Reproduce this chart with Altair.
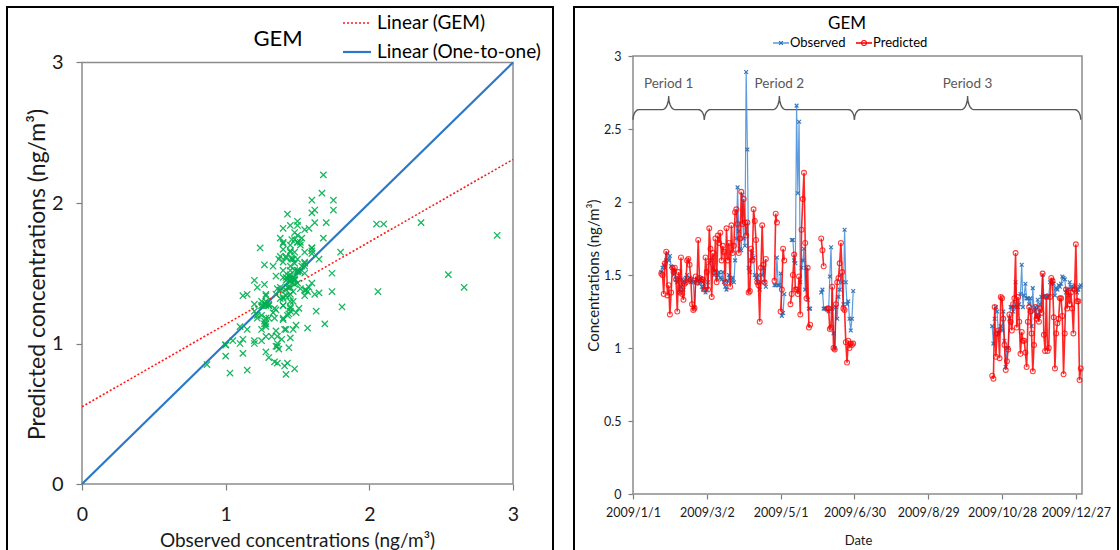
import altair as alt
import numpy as np
import pandas as pd

FONT = "Lato"

# ------------------------------------------------------------------ data
# daily GEM concentrations (ng/m3); None = no measurement
P12_START = "2009-01-24"
obs_p12 = [
    1.52, 1.55, 1.57, 1.55, 1.60, 1.65, 1.60, 1.63, 1.56, 1.55,
    1.50, 1.53, 1.47, 1.45, 1.48, 1.38, 1.42, 1.47, 1.40, 1.45,
    1.48, 1.50, 1.46, 1.48, 1.45, 1.47, 1.45, 1.28, 1.45, 1.47,
    1.46, 1.44, 1.48, 1.42, 1.40, 1.44, 1.38, 1.40, 1.45, 1.58,
    1.60, 1.62, 1.55, 1.50, 1.53, 1.48, 1.50, 1.52, 1.48, 1.47,
    1.52, 1.45, 1.42, 1.40, 1.46, 1.50, 1.48, 1.45, 1.48, 1.45,
    1.60, 1.75, 2.10, 1.80, 1.68, 1.67, 2.05, 1.75, 1.70, 2.89,
    2.36, 1.55, 1.52, 1.60, 1.65, 1.62, 1.50, 1.48, 1.45, 1.50,
    1.40, 1.45, 1.50, 1.55, 1.45, 1.42, None, None, None, None,
    None, None, 1.43, 1.43, 1.62, 1.43, 1.43, 1.51, 1.22, 1.24,
    1.37, None, None, None, None, None, 1.74, 1.74, 1.60, 1.58,
    2.66, 2.06, 2.55, 1.45, 1.55, 1.60, 1.68, 1.40, 1.55, 1.33,
    1.27, 1.27, None, None, None, None, None, None, None, None,
    1.38, 1.40, 1.27, 1.27, 1.27, 1.26, 1.25, 1.49, 1.69, 1.27,
    1.10, 1.00, 1.28, 1.20, 1.35, 1.40, 1.50, 1.45, 1.30, 1.81,
    1.45, 1.30, 1.32, 1.20, 1.12, 1.20, 1.39,
]
pred_p12 = [
    1.51, 1.50, 1.37, 1.58, 1.66, 1.36, 1.43, 1.23, 1.38, 1.55,
    1.52, 1.55, 1.47, 1.25, 1.52, 1.38, 1.62, 1.37, 1.33, 1.44,
    1.45, 1.60, 1.61, 1.57, 1.47, 1.30, 1.26, 1.27, 1.49, 1.45,
    1.74, 1.48, 1.46, 1.47, 1.47, 1.40, 1.62, 1.52, 1.40, 1.82,
    1.68, 1.35, 1.65, 1.52, 1.75, 1.45, 1.77, 1.72, 1.79, 1.60,
    1.70, 1.66, 1.45, 1.82, 1.60, 1.72, 1.42, 1.84, 1.65, 1.70,
    1.93, 1.95, 1.85, 1.65, 1.75, 2.07, 1.85, 2.02, 1.86, 1.77,
    1.86, 1.38, 1.39, 1.68, 1.60, 1.95, 1.87, 1.74, 1.45, 1.43,
    1.18, 1.55, 1.84, 1.57, 1.45, 1.61, None, None, None, None,
    None, None, 1.46, 1.92, 1.86, None, None, 1.25, 1.40, 1.68,
    1.60, None, None, None, None, 1.30, 1.37, 1.50, 1.64, 1.40,
    1.40, 1.37, 1.49, 1.23, 1.81, 2.02, 2.20, 1.72, 1.34, 1.55,
    1.14, 1.16, None, None, None, None, None, None, None, None,
    1.75, 1.67, 1.56, None, None, 1.27, 1.27, 1.13, 1.14, 1.42,
    1.00, 0.99, 1.30, 1.45, 1.48, 1.58, 1.72, 1.52, 1.27, 1.26,
    1.04, 0.90, 1.05, 1.00, 1.03, 1.02, 1.03,
]
P3_START = "2009-10-20"
obs_p3 = [
    1.15, 1.03, 1.20, 1.28, 1.25, 1.10, 1.12, 1.15, 1.12, 1.25,
    1.05, 0.87, 1.00, 1.00, 1.20, 1.28, 1.28, 1.25, 1.28, 1.45,
    1.28, 1.28, 1.30, 1.37, 1.57, 1.28, 1.36, 1.44, 1.34, 1.34,
    1.30, 1.34, 1.15, 1.41, 1.25, 1.28, 1.22, 1.33, 1.22, 1.30,
    1.35, 1.50, 1.35, 1.36, 1.35, 1.35, 1.36, 1.45, 1.44, 1.46,
    1.44, 1.36, 1.41, 1.40, 1.43, 1.42, 1.44, 1.49, 1.48, 1.47,
    1.38, 1.40, 1.36, 1.45, 1.42, 1.40, 1.42, 1.43, 1.40, 1.38,
    1.40, 1.42, 1.43,
]
pred_p3 = [
    0.81, 0.79, 1.28, 0.94, 1.10, 1.12, 0.93, 1.35, 1.34, 1.20,
    1.02, 0.85, 0.91, 0.99, 1.23, 1.18, 1.12, 1.30, 1.34, 1.65,
    1.14, 1.35, 1.18, 0.96, 1.11, 1.05, 1.05, 0.97, 0.87, 1.18,
    1.28, 1.25, 1.10, 0.84, 1.02, 1.28, 1.20, 1.22, 1.18, 1.27,
    1.24, 1.51, 1.09, 0.98, 1.35, 0.98, 1.00, 1.35, 1.48, 1.46,
    1.21, 0.86, 1.10, 1.17, 1.20, 1.34, 1.34, 1.22, 0.82, 1.10,
    1.40, 1.27, 1.39, 1.30, 1.38, 1.27, 1.10, 1.40, 1.71, 1.32,
    1.32, 0.78, 0.86,
]

# Excel trend lines
gem_fit_x = [0, 3]
gem_fit_y = [0.55, 2.31]
one_to_one_x = [0, 3]
one_to_one_y = [0, 3]
fit_names = ["Linear (GEM)", "Linear (One-to-one)"]

period_names = ["Period 1", "Period 2", "Period 3"]
period_from = ["2009-01-01", "2009-02-28", "2009-06-30"]
period_to = ["2009-02-28", "2009-06-30", "2009-12-31"]

date_ticks = ["2009-01-01", "2009-03-02", "2009-05-01", "2009-06-30",
              "2009-08-29", "2009-10-28", "2009-12-27"]
conc_ticks = [0, 0.5, 1, 1.5, 2, 2.5, 3]
scatter_ticks = [0, 1, 2, 3]
series_names = ["Observed", "Predicted"]

# ------------------------------------------------------------------ tables
BASE = pd.Timestamp("2009-01-01")


def series_rows(values, start, name):
    dates = pd.date_range(start, periods=len(values), freq="D")
    rows, seg, gap = [], 0, True
    for d, v in zip(dates, values):
        if v is None:
            gap = True
            continue
        if gap:
            seg += 1
            gap = False
        rows.append({"date": d, "value": v, "seg": f"{name}-{start}-{seg}"})
    return rows


obs_df = pd.DataFrame(series_rows(obs_p12, P12_START, "obs") + series_rows(obs_p3, P3_START, "obs"))
pred_df = pd.DataFrame(series_rows(pred_p12, P12_START, "pred") + series_rows(pred_p3, P3_START, "pred"))

pairs = [(o, p) for o, p in zip(obs_p12 + obs_p3, pred_p12 + pred_p3)
         if o is not None and p is not None]
scatter_df = pd.DataFrame(pairs, columns=["x", "y"])

gem_df = pd.DataFrame({"x": gem_fit_x, "y": gem_fit_y})
one_df = pd.DataFrame({"x": one_to_one_x, "y": one_to_one_y})
box_df = pd.DataFrame({"x": [0], "x2": [3], "y": [0], "y2": [3]})
one_row = pd.DataFrame({"k": [0]})

# curly braces above the periods
B_TIP, B_LINE, B_PEAK, B_R = 2.563, 2.633, 2.726, 5.0
brace_rows, label_rows = [], []
for name, a, b in zip(period_names, period_from, period_to):
    s = (pd.Timestamp(a) - BASE).days
    e = (pd.Timestamp(b) - BASE).days
    m = (s + e) / 2
    t = np.linspace(0, np.pi / 2, 10)
    pts = []
    pts += [(s + B_R * (1 - np.cos(u)), B_TIP + (B_LINE - B_TIP) * np.sin(u)) for u in t]
    pts += [(m - B_R + B_R * np.sin(u), B_LINE + (B_PEAK - B_LINE) * (1 - np.cos(u))) for u in t]
    pts += [(m + B_R - B_R * np.sin(u), B_LINE + (B_PEAK - B_LINE) * (1 - np.cos(u))) for u in t[::-1]]
    pts += [(e - B_R * (1 - np.cos(u)), B_TIP + (B_LINE - B_TIP) * np.sin(u)) for u in t[::-1]]
    for i, (dx, vy) in enumerate(pts):
        brace_rows.append({"period": name, "i": i,
                           "date": BASE + pd.to_timedelta(float(dx), unit="D"), "value": float(vy)})
    label_rows.append({"period": name, "date": BASE + pd.to_timedelta(m, unit="D")})
brace_df = pd.DataFrame(brace_rows)
plabel_df = pd.DataFrame(label_rows)
rbox_df = pd.DataFrame({"date": [BASE], "date2": [pd.Timestamp("2010-01-01")],
                        "value": [0], "value2": [3]})

# ------------------------------------------------------------------ styles
GREEN = "#00b050"
ONE_BLUE = "#2a78c6"
FIT_RED = "#ff1a1a"
OBS_LINE = "#4a90d9"
OBS_MARK = "#2b6cb3"
PRED_RED = "#ff0000"
GRAY = "#8c8c8c"
X_PATH = "M-1,-1L1,1M-1,1L1,-1"

# ------------------------------------------------------------------ left panel
LW, LH = 431, 438
L_TOP, L_BOT = 6.5, 428          # pixel rows of y=3 and y=0 inside the 438 px panel
L_PX = (L_BOT - L_TOP) / 3
Y_LO, Y_HI = -(LH - L_BOT) / L_PX, 3 + L_TOP / L_PX

lx = alt.X("x:Q", scale=alt.Scale(domain=[0, 3], nice=False, zero=False),
           axis=alt.Axis(title="Observed concentrations (ng/m³)", values=scatter_ticks, format="d",
                         offset=-(LH - L_BOT), tickSize=6, labelPadding=15, labelFontSize=19.5,
                         titleFontSize=19, titleX=215, titleY=56, titleBaseline="middle"))
ly = alt.Y("y:Q", scale=alt.Scale(domain=[Y_LO, Y_HI], nice=False, zero=False),
           axis=alt.Axis(title="Predicted concentrations (ng/m³)", values=scatter_ticks, format="d",
                         tickSize=6, labelPadding=13, labelFontSize=20,
                         titleFontSize=23, titleX=-44.5, titleY=218, titleBaseline="middle"))

l_frame = alt.Chart(one_row).mark_rect(fill="transparent", stroke="black", strokeWidth=2).encode(
    x=alt.value(-75), x2=alt.value(471), y=alt.value(-49), y2=alt.value(500))
l_box = alt.Chart(box_df).mark_rect(fill="transparent", stroke=GRAY, strokeWidth=1.5).encode(
    x=lx, x2="x2:Q", y=ly, y2="y2:Q")
l_one = alt.Chart(one_df).mark_line(color=ONE_BLUE, strokeWidth=2.2).encode(x=lx, y=ly)
l_fit = alt.Chart(gem_df).mark_line(color=FIT_RED, strokeWidth=1.6, strokeDash=[2, 2]).encode(x=lx, y=ly)
l_pts = alt.Chart(scatter_df).mark_point(shape=X_PATH, size=40, filled=False, color=GREEN,
                                         strokeWidth=1.3, opacity=0.9).encode(x=lx, y=ly)
l_leg1 = alt.Chart(one_row).mark_rule(color=FIT_RED, strokeWidth=1.6, strokeDash=[2, 2]).encode(
    x=alt.value(261), x2=alt.value(289), y=alt.value(-33))
l_leg2 = alt.Chart(one_row).mark_rule(color=ONE_BLUE, strokeWidth=2.2).encode(
    x=alt.value(261), x2=alt.value(289), y=alt.value(-4))
l_leg1t = alt.Chart(one_row).mark_text(text=fit_names[0], font=FONT, fontSize=19, align="left",
                                       baseline="middle", color="black").encode(
    x=alt.value(295), y=alt.value(-33))
l_leg2t = alt.Chart(one_row).mark_text(text=fit_names[1], font=FONT, fontSize=19, align="left",
                                       baseline="middle", color="black").encode(
    x=alt.value(295), y=alt.value(-4))
l_title = alt.Chart(one_row).mark_text(text="GEM", font=FONT, fontSize=22, align="center",
                                       baseline="middle", color="black").encode(
    x=alt.value(196), y=alt.value(-17))

left = alt.layer(l_frame, l_box, l_one, l_fit, l_pts, l_leg1, l_leg2, l_leg1t, l_leg2t,
                 l_title).properties(width=LW, height=LH)

# ------------------------------------------------------------------ right panel
RW, RH = 449, 438


def dt(s):
    t = pd.Timestamp(s)
    return alt.DateTime(year=t.year, month=t.month, date=t.day)


rx = alt.X("date:T",
           scale=alt.Scale(domain=[dt("2009-01-01"), dt("2010-01-01")]),
           axis=alt.Axis(title="Date", values=[dt(d) for d in date_ticks], format="%Y/%-m/%-d",
                         tickSize=5, labelPadding=7, labelFontSize=12.5,
                         titleFontSize=13, titleX=225, titleY=46, titleBaseline="middle"))
ry = alt.Y("value:Q", scale=alt.Scale(domain=[0, 3], nice=False, zero=False),
           axis=alt.Axis(title="Concentrations (ng/m³)", values=conc_ticks, format="~g",
                         tickSize=5, labelPadding=7, labelFontSize=12.5,
                         titleFontSize=15, titleX=-40, titleY=219, titleBaseline="middle"))

r_frame = alt.Chart(one_row).mark_rect(fill="transparent", stroke="black", strokeWidth=2).encode(
    x=alt.value(-59), x2=alt.value(485), y=alt.value(-49), y2=alt.value(500))
r_box = alt.Chart(rbox_df).mark_rect(fill="transparent", stroke=GRAY, strokeWidth=1.5).encode(
    x=rx, x2="date2:T", y=ry, y2="value2:Q")
r_brace = alt.Chart(brace_df).mark_line(color="#595959", strokeWidth=1.4).encode(
    x=rx, y=ry, detail="period:N", order="i:Q")
r_plab = alt.Chart(plabel_df).mark_text(font=FONT, fontSize=13.5, color="#595959",
                                        baseline="middle", align="center").encode(
    x=rx, y=alt.value(28), text="period:N")
r_obs_l = alt.Chart(obs_df).mark_line(color=OBS_LINE, strokeWidth=1.2, opacity=0.9).encode(
    x=rx, y=ry, detail="seg:N")
r_obs_p = alt.Chart(obs_df).mark_point(shape=X_PATH, size=14, filled=False, color=OBS_MARK,
                                       strokeWidth=1.2, opacity=0.9).encode(x=rx, y=ry)
r_pred_l = alt.Chart(pred_df).mark_line(color=PRED_RED, strokeWidth=1.6, opacity=0.85).encode(
    x=rx, y=ry, detail="seg:N")
r_pred_p = alt.Chart(pred_df).mark_point(shape="circle", size=24, filled=False, color=PRED_RED,
                                         strokeWidth=1.1, opacity=0.75).encode(x=rx, y=ry)
r_leg_ol = alt.Chart(one_row).mark_rule(color=OBS_LINE, strokeWidth=1.4).encode(
    x=alt.value(140), x2=alt.value(156), y=alt.value(-13))
r_leg_op = alt.Chart(one_row).mark_point(shape=X_PATH, size=14, filled=False, color=OBS_MARK,
                                         strokeWidth=1.2, opacity=1).encode(
    x=alt.value(148), y=alt.value(-13))
r_leg_ot = alt.Chart(one_row).mark_text(text=series_names[0], font=FONT, fontSize=13, align="left",
                                        baseline="middle", color="black").encode(
    x=alt.value(157), y=alt.value(-13))
r_leg_pl = alt.Chart(one_row).mark_rule(color=PRED_RED, strokeWidth=1.6).encode(
    x=alt.value(223), x2=alt.value(239), y=alt.value(-13))
r_leg_pp = alt.Chart(one_row).mark_point(shape="circle", size=24, filled=False, color=PRED_RED,
                                         strokeWidth=1.1, opacity=1).encode(
    x=alt.value(231), y=alt.value(-13))
r_leg_pt = alt.Chart(one_row).mark_text(text=series_names[1], font=FONT, fontSize=13, align="left",
                                        baseline="middle", color="black").encode(
    x=alt.value(240), y=alt.value(-13))
r_title = alt.Chart(one_row).mark_text(text="GEM", font=FONT, fontSize=17, align="center",
                                       baseline="middle", color="black").encode(
    x=alt.value(214), y=alt.value(-32))

right = alt.layer(r_frame, r_box, r_brace, r_plab, r_obs_l, r_obs_p, r_pred_l, r_pred_p,
                  r_leg_ol, r_leg_op, r_leg_ot, r_leg_pl, r_leg_pp, r_leg_pt,
                  r_title).properties(width=RW, height=RH)

chart = (
    alt.hconcat(left, right, spacing=120, bounds="flush")
    .properties(padding={"left": 6, "top": 6, "right": 0, "bottom": 0})
    .configure_view(strokeWidth=0)
    .configure_axis(grid=False, domain=False, labelFont=FONT, titleFont=FONT, labelFlush=False,
                    labelOverlap=False, tickColor="#7f7f7f", tickWidth=1.2,
                    labelColor="#1a1a1a", titleColor="#1a1a1a", titleFontWeight="normal")
)

chart.save("out.html", embed_options={"renderer": "svg", "actions": False})
